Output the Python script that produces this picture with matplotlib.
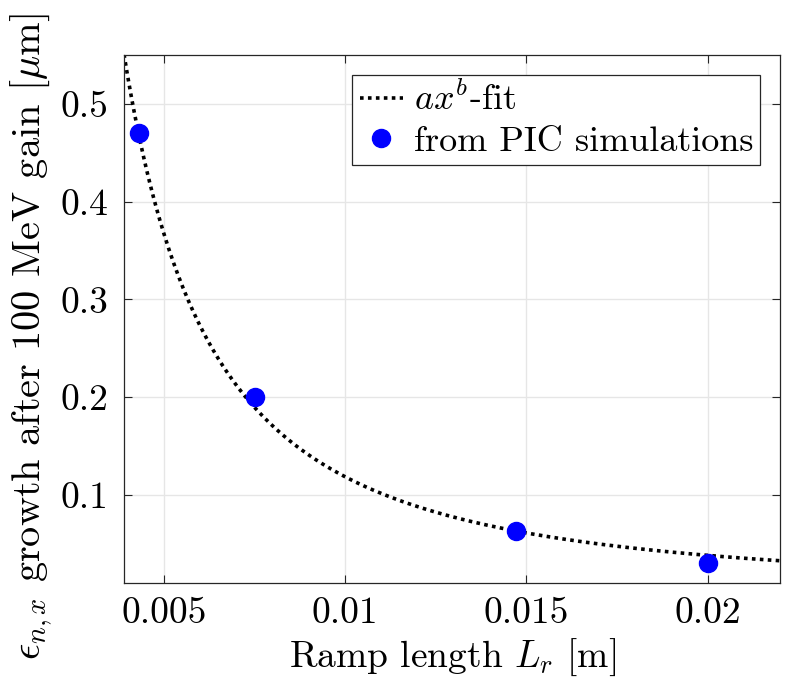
import numpy as np
import matplotlib
matplotlib.use("Agg")
import matplotlib.pyplot as plt

# PIC simulation results
ramp_length = [0.0043, 0.0075, 0.0147, 0.0200]
emit_growth = [0.470, 0.200, 0.063, 0.031]

# power-law fit parameters a*x^b
fit_a = 6.52e-5
fit_b = -1.63

x_ticks = [0.005, 0.01, 0.015, 0.02]
x_ticklabels = ["0.005", "0.01", "0.015", "0.02"]
y_ticks = [0.1, 0.2, 0.3, 0.4, 0.5]
y_ticklabels = ["0.1", "0.2", "0.3", "0.4", "0.5"]

plt.rcParams["font.family"] = "serif"
plt.rcParams["font.serif"] = ["cmr10", "DejaVu Serif"]
plt.rcParams["mathtext.fontset"] = "cm"
plt.rcParams["axes.unicode_minus"] = False

fig = plt.figure(figsize=(7.85, 6.78), dpi=100)
ax = fig.add_axes([0.158, 0.140, 0.836, 0.779])

xlim = (0.0039, 0.022)
xf = np.linspace(xlim[0], xlim[1], 400)
ax.plot(xf, fit_a * xf**fit_b, color="black", linestyle=(0, (1, 1.2)),
        linewidth=2.6, label=r"$ax^b$-fit", zorder=2)
ax.plot(ramp_length, emit_growth, "o", color=(0, 0, 1), markersize=13,
        label="from PIC simulations", zorder=3)

ax.set_xlim(*xlim)
ax.set_ylim(0.01, 0.55)
ax.set_xticks(x_ticks)
ax.set_xticklabels(x_ticklabels)
ax.set_yticks(y_ticks)
ax.set_yticklabels(y_ticklabels)

ax.grid(True, color="#e6e6e6", linewidth=1.0)
ax.set_axisbelow(True)
for s in ax.spines.values():
    s.set_color("#262626")
    s.set_linewidth(0.9)
ax.tick_params(direction="in", top=True, right=True, length=6,
               width=0.8, color="#262626", labelsize=27)
ax.tick_params(axis="x", pad=10)
ax.tick_params(axis="y", pad=11)

ax.set_xlabel(r"Ramp length $L_r$ [m]", fontsize=27, labelpad=5)
ax.set_ylabel(r"$\epsilon_{n,x}$ growth after 100 MeV gain [$\mu$m]",
              fontsize=29)
ax.yaxis.set_label_coords(-0.105, 0.467)

leg = ax.legend(loc="upper right", fontsize=26, handlelength=1.2,
                handletextpad=0.3, borderpad=0.2, labelspacing=0.22,
                borderaxespad=0.55, fancybox=False, framealpha=1,
                markerscale=1.0)
leg.get_frame().set_edgecolor("#262626")
leg.get_frame().set_linewidth(0.9)

fig.savefig("out.png", dpi=100)
